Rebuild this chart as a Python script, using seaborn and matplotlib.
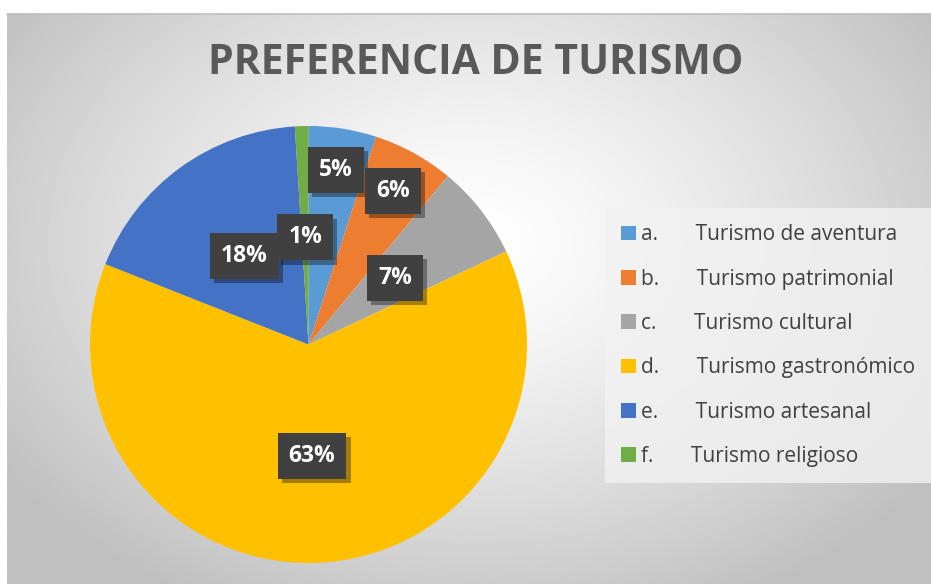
import numpy as np
import matplotlib
matplotlib.use("Agg")
import matplotlib.pyplot as plt
import matplotlib.patheffects as pe
import seaborn as sns

# ==============================================================================
# DATA
# ==============================================================================
letters = ["a.", "b.", "c.", "d.", "e.", "f."]
categories = ["Turismo de aventura", "Turismo patrimonial", "Turismo cultural",
              "Turismo gastronómico", "Turismo artesanal", "Turismo religioso"]
shares = [5, 6, 7, 63, 18, 1]
title = "PREFERENCIA DE TURISMO"

colors = ["#5B9BD5", "#ED7D31", "#A5A5A5", "#FFC000", "#4472C4", "#70AD47"]
# radial distance of each data label (fraction of radius)
label_dist = [0.81, 0.80, 0.50, 0.51, 0.50, 0.49]

sns.set_style("white")
plt.rcParams["font.family"] = ["Open Sans", "DejaVu Sans"]

W, H = 931, 584
fig = plt.figure(figsize=(W / 100, H / 100), dpi=100)

# ==============================================================================
# BACKGROUND (radial gray gradient of the chart area)
# ==============================================================================
x0, y0 = 7, 14
bg = fig.add_axes([x0 / W, 0, 1 - x0 / W, (H - y0) / H])
yy, xx = np.mgrid[0:1:300j, 0:1:500j]
d = np.sqrt(((xx - 0.5) / 0.62) ** 2 + ((yy - 0.40) / 0.72) ** 2)
shade = 1.0 - 0.25 * np.clip(d, 0, 1) ** 1.3
bg.imshow(shade, cmap="gray", vmin=0, vmax=1, aspect="auto",
          extent=[0, 1, 1, 0], interpolation="bilinear")
bg.set_axis_off()
fig.add_artist(plt.Line2D([x0 / W, 1], [(H - y0) / H] * 2, color="#bdbdbd", lw=1.2))

# ==============================================================================
# PIE
# ==============================================================================
cx, cy, r = 308.5, 344.5, 218.5
ax = fig.add_axes([(cx - r) / W, (H - cy - r) / H, 2 * r / W, 2 * r / H])
wedges, _ = ax.pie(shares, colors=colors, startangle=90, counterclock=False,
                   radius=1, wedgeprops=dict(linewidth=0))
ax.set_xlim(-1, 1)
ax.set_ylim(-1, 1)
ax.set_aspect("equal")
ax.set_axis_off()

cum = np.cumsum([0] + shares[:-1])
total = sum(shares)
for s, c0, dist in zip(shares, cum, label_dist):
    mid = np.deg2rad(90 - 360 * (c0 + s / 2) / total)
    t = ax.text(dist * np.cos(mid), dist * np.sin(mid), f"{s}%",
                ha="center", va="center", color="white", fontsize=16.5,
                fontweight="bold",
                bbox=dict(boxstyle="square,pad=0.48", fc="#404040", ec="none"))
    t.get_bbox_patch().set_path_effects(
        [pe.SimplePatchShadow(offset=(3, -3), shadow_rgbFace="#000000", alpha=0.35),
         pe.Normal()])

# ==============================================================================
# TITLE + LEGEND
# ==============================================================================
fig.text(476 / W, 1 - 64 / H, title, ha="center", va="center",
         fontsize=29.5, fontweight="bold", color="#595959")

labels = [f"{l}       {c}" for l, c in zip(letters, categories)]
leg = fig.legend(wedges, labels, loc="upper left",
                 bbox_to_anchor=(605 / W, 1 - 208 / H), frameon=True,
                 fontsize=15, labelcolor="#404040", handlelength=0.7,
                 handleheight=0.7, handletextpad=0.25, labelspacing=1.12,
                 borderpad=0.78, borderaxespad=0, fancybox=False)
leg.get_frame().set_facecolor("#f2f2f2")
leg.get_frame().set_edgecolor("none")

fig.savefig("out.png", dpi=100)
